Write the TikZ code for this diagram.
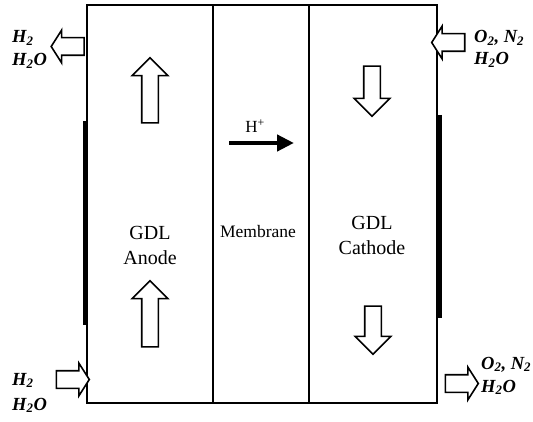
\documentclass[tikz,border=0pt]{standalone}
\usepackage{fontspec}
\setmainfont{Liberation Serif}
\usetikzlibrary{shapes.arrows, arrows.meta, positioning}

\begin{document}
\begin{tikzpicture}[
    x=1pt, y=-1pt,
    layer/.style={rectangle, draw=black, line width=2.4pt, minimum height=398pt, outer sep=0pt, inner sep=0pt},
    plate/.style={line width=5pt, black},
    flow/.style={single arrow, draw=black, line width=1.6pt, fill=white, inner xsep=0pt, inner ysep=7.5pt, single arrow head extend=9.5pt, single arrow tip angle=90},
    port/.style={single arrow, draw=black, line width=1.6pt, fill=white, inner xsep=0pt, inner ysep=8pt, single arrow head extend=7.5pt, single arrow tip angle=115, minimum height=33pt},
    gas/.style={anchor=base west, inner sep=0pt, font=\fontsize{18.5}{20}\selectfont\bfseries\itshape},
    lbl/.style={align=center, font=\fontsize{20}{25}\selectfont},
    proton/.style={-{Triangle[length=17pt, width=16pt]}, line width=4.5pt}
]
\useasboundingbox (0,0) rectangle (533,422);

% Cell layers
\node[layer, minimum width=126pt] (anode) at (150,204) {};
\node[layer, minimum width=96pt] (membr) at (261,204) {};
\node[layer, minimum width=128pt] (cathode) at (373,204) {};

% End plates
\draw[plate] (85,121) -- (85,325);
\draw[plate] (439,115) -- (439,318);

% Layer labels
\node[lbl] (anode_txt) at (150,245) {GDL\\Anode};
\node[font=\fontsize{17.5}{20}\selectfont] (membr_txt) at (258,232) {Membrane};
\node[lbl] (cathode_txt) at (372,235) {GDL\\Cathode};

% Flow in the layers
\node[flow, rotate=90, minimum height=65pt] (an_up1) at (150,94.5) {};
\node[flow, rotate=90, minimum height=66pt] (an_up2) at (150,318) {};
\node[flow, rotate=-90, minimum height=50pt] (ca_dn1) at (372,87) {};
\node[flow, rotate=-90, minimum height=48pt] (ca_dn2) at (373,326) {};

% Proton transport
\node[font=\fontsize{17}{20}\selectfont, anchor=base] (hplus) at (255,133) {H\textsuperscript{+}};
\coordinate (hp_a) at (229,143);
\coordinate (hp_b) at (294,143);
\draw[proton] (hp_a) -- (hp_b);

% Inlets and outlets
\node[port, rotate=180] (an_out) at (70.5,46.5) {};
\node[port] (an_in) at (70,379.5) {};
\node[port, rotate=180] (ca_in) at (451,42.5) {};
\node[port] (ca_out) at (459,383.5) {};

\node[gas] (an_out_h2) at (12,43) {H\textsubscript{2}};
\node[gas] (an_out_w) at (12,66) {H\textsubscript{2}O};
\node[gas] (an_in_h2) at (12,385) {H\textsubscript{2}};
\node[gas] (an_in_w) at (12,410) {H\textsubscript{2}O};
\node[gas] (ca_in_o2) at (474,43) {O\textsubscript{2}, N\textsubscript{2}};
\node[gas] (ca_in_w) at (474,65) {H\textsubscript{2}O};
\node[gas] (ca_out_o2) at (481,369) {O\textsubscript{2}, N\textsubscript{2}};
\node[gas] (ca_out_w) at (481,392) {H\textsubscript{2}O};
\end{tikzpicture}
\end{document}
